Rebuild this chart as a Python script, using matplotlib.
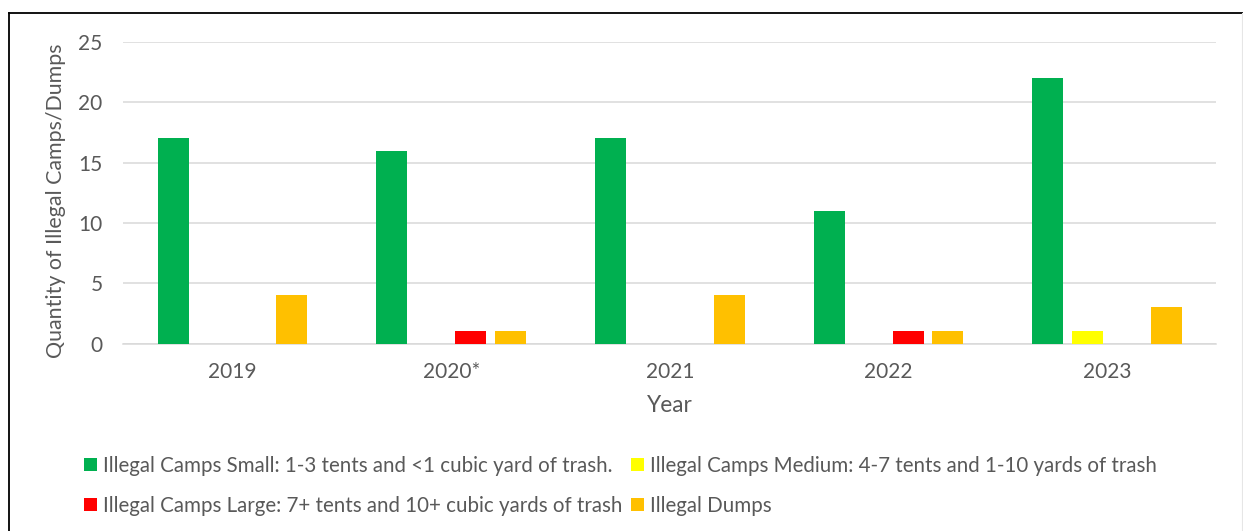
import matplotlib
matplotlib.use("Agg")
import matplotlib.pyplot as plt
import numpy as np
from matplotlib.lines import Line2D

years = ["2019", "2020*", "2021", "2022", "2023"]
series_names = [
    "Illegal Camps Small: 1-3 tents and <1 cubic yard of trash.",
    "Illegal Camps Medium: 4-7 tents and 1-10 yards of trash",
    "Illegal Camps Large: 7+ tents and 10+ cubic yards of trash",
    "Illegal Dumps",
]
camps_small = [17, 16, 17, 11, 22]
camps_medium = [0, 0, 0, 0, 1]
camps_large = [0, 1, 0, 1, 0]
dumps = [4, 1, 4, 1, 3]
colors = ["#00B050", "#FFFF00", "#FF0000", "#FFC000"]

plt.rcParams['font.family'] = ['Lato', 'DejaVu Sans']
txt = "#595959"
fs = 14.8

W, H = 1243, 531
fig = plt.figure(figsize=(W / 100, H / 100), dpi=100)
ax = fig.add_axes([123.3 / W, 1 - 343.5 / H, 1093 / W, 301.5 / H])

x = np.arange(len(years))
step = 0.181
bw = 0.1418
handles = []
for j, vals in enumerate([camps_small, camps_medium, camps_large, dumps]):
    b = ax.bar(x + (j - 1.5) * step, vals, width=bw, color=colors[j],
               label=series_names[j], zorder=3)
    handles.append(b)

ax.set_xlim(-0.5, len(years) - 0.5)
ax.set_ylim(0, 25)
ax.set_yticks([0, 5, 10, 15, 20, 25])
ax.set_xticks(x)
ax.set_xticklabels(years)
ax.grid(axis='y', color='#D9D9D9', lw=1.1, zorder=0)
for s in ['top', 'right', 'left']:
    ax.spines[s].set_visible(False)
ax.spines['bottom'].set_color('#D9D9D9')
ax.spines['bottom'].set_linewidth(1.1)
ax.tick_params(axis='both', length=0, labelsize=15, labelcolor=txt)
ax.tick_params(axis='y', pad=15)
ax.tick_params(axis='x', pad=13)

ax.set_xlabel("Year", fontsize=16.3, color=txt, va='center')
ax.xaxis.set_label_coords(0.5, (343.5 - 405) / 301.5)
ax.set_ylabel("Quantity of Illegal Camps/Dumps", fontsize=15.4, color=txt, va='center')
ax.yaxis.set_label_coords((56 - 123.3) / 1093, (343.5 - 201) / 301.5)

order = [0, 2, 1, 3]
leg = fig.legend([handles[i] for i in order], [series_names[i] for i in order],
                 ncol=2, loc='upper left', bbox_to_anchor=(84 / W, 1 - 456 / H),
                 frameon=False, fontsize=fs, labelcolor=txt,
                 borderpad=0, borderaxespad=0, handlelength=0.63, handleheight=0.63,
                 handletextpad=0.3, columnspacing=0.4, labelspacing=0.95)

# outer frame
fig.add_artist(Line2D([8.5 / W, 8.5 / W], [0, 1 - 12.5 / H], color='black', lw=1.3,
                      transform=fig.transFigure))
fig.add_artist(Line2D([8.5 / W, 1], [1 - 12.5 / H, 1 - 12.5 / H], color='black', lw=1.3,
                      transform=fig.transFigure))
fig.add_artist(Line2D([1241.5 / W, 1241.5 / W], [0, 1 - 12.5 / H], color='#E6E6E6', lw=0.8,
                      transform=fig.transFigure))

fig.savefig("out.png", dpi=100)
